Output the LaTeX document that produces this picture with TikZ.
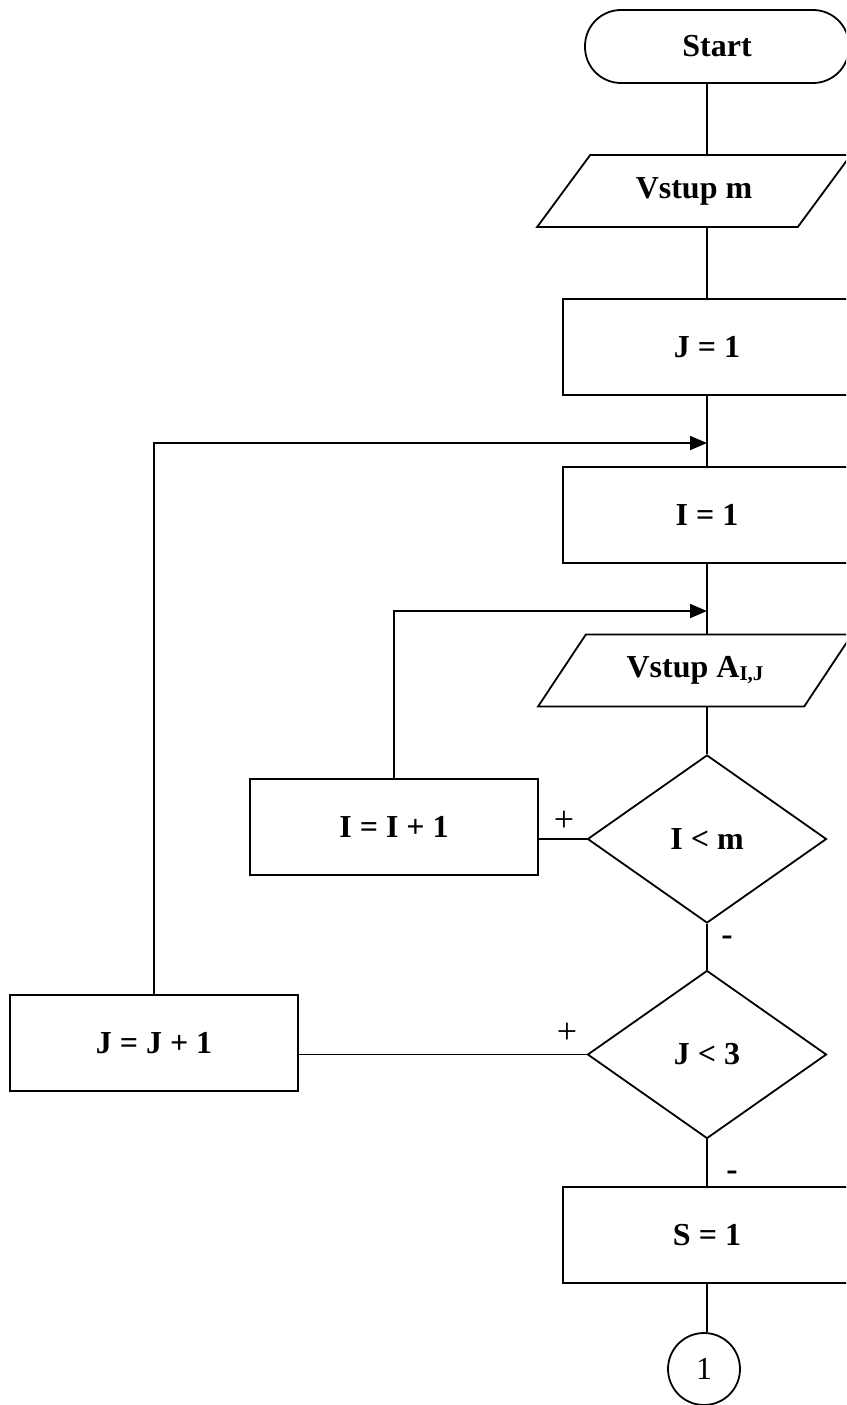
\documentclass[tikz,border=0pt]{standalone}
\usepackage{fontspec}
\setmainfont{Liberation Serif}
\usetikzlibrary{shapes.geometric,arrows.meta}
\begin{document}
\begin{tikzpicture}[x=1pt,y=-1pt,
  line width=1.8pt,
  base/.style={draw=black, line width=1.8pt, inner sep=0pt, align=center,
    font=\bfseries\fontsize{32}{36}\selectfont},
  procbox/.style={base, rectangle, minimum width=288pt, minimum height=96pt},
  iobox/.style={base, trapezium, trapezium left angle=43, trapezium right angle=137,
    trapezium stretches=true, minimum width=314pt, minimum height=72pt},
  decbox/.style={base, diamond, minimum width=239pt, minimum height=168pt},
  termbox/.style={base, rectangle, rounded corners=36pt, minimum width=264pt, minimum height=73pt},
  conbox/.style={draw=black, line width=1.8pt, circle, minimum size=72pt, inner sep=0pt,
    font=\fontsize{32}{36}\selectfont},
  flow/.style={line width=1.8pt},
  arr/.style={line width=1.8pt, -{Triangle[length=17pt,width=14pt]}},
  lbl/.style={inner sep=0pt, font=\fontsize{36}{38}\selectfont},
  lblm/.style={inner sep=0pt, font=\bfseries\fontsize{34}{36}\selectfont}
]
\useasboundingbox (0,0) rectangle (846,1405);
\clip (0,0) rectangle (846,1405);

\node[termbox] (start) at (717,46.5) {Start};
\node[iobox] (in1) at (694,191) {Vstup m};
\node[procbox] (j1) at (707,347) {J = 1};
\node[procbox] (i1) at (707,515) {I = 1};
\node[iobox] (in2) at (695,670.5) {Vstup A\raisebox{-3pt}{\fontsize{21}{21}\selectfont I,J}};
\node[decbox] (d1) at (707,839) {I < m};
\node[procbox] (ii1) at (394,827) {I = I + 1};
\node[decbox] (d2) at (707,1054.5) {J < 3};
\node[procbox] (jj1) at (154,1043) {J = J + 1};
\node[procbox] (s1) at (707,1235) {S = 1};
\node[conbox] (c1) at (704,1369) {1};

\coordinate (m1) at (707,611);
\coordinate (m2) at (707,443);

\draw[flow] (start.south -| j1.north) -- (in1.north -| j1.north);
\draw[flow] (in1.south -| j1.north) -- (j1.north);
\draw[flow] (j1.south) -- (i1.north);
\draw[flow] (i1.south) -- (in2.north -| i1.south);
\draw[flow] (in2.south -| d1.north) -- (d1.north);
\draw[flow] (d1.west) -- (d1.west -| ii1.east);
\draw[arr] (ii1.north) |- (m1);
\draw[flow] (d1.south) -- (d2.north);
\draw[flow] (d2.west) -- (d2.west -| jj1.east);
\draw[arr] (jj1.north) |- (m2);
\draw[flow] (d2.south) -- (s1.north);
\draw[flow] (s1.south) -- (s1.south |- c1.north);

\node[lbl] (p1) at (564,821) {+};
\node[lbl] (p2) at (567,1033) {+};
\node[lblm] (n1) at (727,941) {-};
\node[lblm] (n2) at (732,1176) {-};
\end{tikzpicture}
\end{document}
